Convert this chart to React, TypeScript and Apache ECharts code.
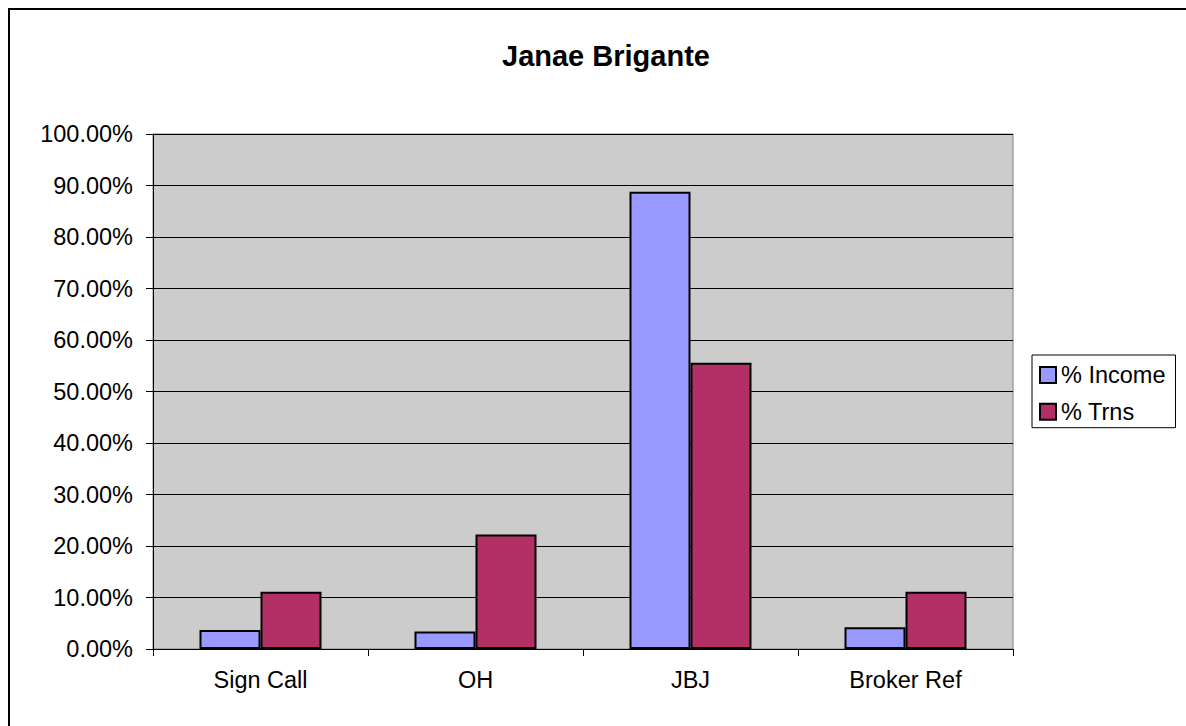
import React, { useEffect, useRef } from "react";
import * as echarts from "echarts";

const categories = ["Sign Call", "OH", "JBJ", "Broker Ref"];
const incomeValues = [3.7, 3.4, 88.8, 4.2];
const trnsValues = [11.11, 22.22, 55.56, 11.11];
const seriesNames = ["% Income", "% Trns"];
const titleText = "Janae Brigante";

export default function App() {
  const ref = useRef<HTMLDivElement>(null);
  useEffect(() => {
    if (!ref.current) return;
    const chart = echarts.init(ref.current, undefined, { renderer: "svg" });
    const font = "Arial, 'Liberation Sans', sans-serif";
    chart.setOption({
      animation: false,
      backgroundColor: "#ffffff",
      title: {
        text: titleText,
        left: 487,
        top: 26,
        textStyle: { fontFamily: font, fontSize: 29, fontWeight: "bold", color: "#000" },
      },
      legend: {
        orient: "vertical",
        left: 1022,
        top: 345,
        icon: "rect",
        itemWidth: 16,
        itemHeight: 16,
        itemGap: 12.7,
        padding: [8, 10, 4, 7],
        borderColor: "#000",
        borderWidth: 1,
        textStyle: { fontFamily: font, fontSize: 23.5, color: "#000", lineHeight: 24 },
        data: seriesNames,
      },
      grid: {
        left: 143,
        top: 124,
        width: 860,
        height: 515,
        show: true,
        backgroundColor: "#CCCCCC",
        borderColor: "#808080",
        borderWidth: 1,
      },
      xAxis: {
        type: "category",
        data: categories,
        axisLine: { lineStyle: { color: "#000", width: 1 } },
        axisTick: { show: true, length: 7, lineStyle: { color: "#000" } },
        axisLabel: { fontFamily: font, fontSize: 23.5, color: "#000", margin: 19 },
      },
      yAxis: {
        type: "value",
        min: 0,
        max: 100,
        interval: 10,
        axisLine: { show: true, lineStyle: { color: "#000", width: 1 } },
        axisTick: { show: true, length: 7, lineStyle: { color: "#000" } },
        splitLine: { show: true, lineStyle: { color: "#000", width: 1 } },
        axisLabel: {
          fontFamily: font,
          fontSize: 23.5,
          color: "#000",
          margin: 20,
          formatter: (v: number) => v.toFixed(2) + "%",
        },
      },
      series: [
        {
          name: seriesNames[0],
          type: "bar",
          data: incomeValues,
          barWidth: 61,
          barGap: "0%",
          itemStyle: { color: "#9999FF", borderColor: "#000", borderWidth: 2 },
        },
        {
          name: seriesNames[1],
          type: "bar",
          data: trnsValues,
          barWidth: 61,
          barGap: "0%",
          itemStyle: { color: "#B23066", borderColor: "#000", borderWidth: 2 },
        },
      ],
    });
    return () => chart.dispose();
  }, []);
  return (
    <div
      style={{
        position: "absolute",
        left: 8,
        top: 8,
        width: 1178,
        height: 718,
        borderLeft: "2px solid #000",
        borderTop: "2px solid #000",
        boxSizing: "border-box",
        overflow: "hidden",
      }}
    >
      <div ref={ref} style={{ width: 1176, height: 716 }} />
    </div>
  );
}
